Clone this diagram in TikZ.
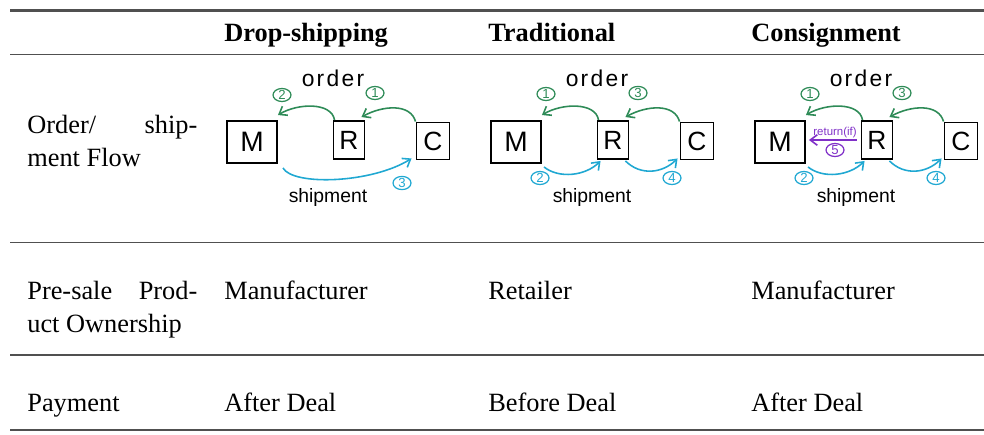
\documentclass[tikz,border=0pt]{standalone}
\usepackage{fontspec}
\setmainfont{Liberation Serif}
\newfontfamily\handfont{Liberation Sans}
\usepackage{xcolor}
\usepackage{tikz}
\usetikzlibrary{arrows.meta,shapes.geometric}
\definecolor{ordergreen}{RGB}{46,139,87}
\definecolor{shipblue}{RGB}{32,168,210}
\definecolor{retpurple}{RGB}{128,48,200}
\definecolor{rulegray}{RGB}{80,80,80}

\begin{document}
\begin{tikzpicture}[x=0.02cm,y=-0.02cm,
    cell/.style={anchor=base west,inner sep=0pt,font=\fontsize{15}{18.5}\selectfont},
    head/.style={cell,font=\fontsize{15}{18.5}\selectfont\bfseries},
    hbox/.style={draw,line width=1.1pt,inner sep=0pt,font=\handfont\fontsize{15}{15}\selectfont},
    hand/.style={inner sep=0pt,font=\handfont\fontsize{11}{11}\selectfont},
    num/.style={ellipse,draw,line width=0.7pt,inner sep=0pt,minimum width=0.36cm,minimum height=0.26cm,font=\handfont\fontsize{7.5}{7.5}\selectfont},
    flow/.style={line width=0.9pt,-{Straight Barb[length=4pt,width=6pt]}},
    ord/.style={flow,ordergreen},
    ship/.style={flow,shipblue}]
  \useasboundingbox (0,0) rectangle (984,435);
  % rules
  \draw[rulegray,line width=1.7pt] (10,10.5) -- (984,10.5);
  \draw[rulegray,line width=1.1pt] (10,54.5) -- (984,54.5);
  \draw[rulegray,line width=1.1pt] (10,242.5) -- (984,242.5);
  \draw[rulegray,line width=1.1pt] (10,355) -- (984,355);
  \draw[rulegray,line width=1.7pt] (10,430) -- (984,430);
  % header and text cells
  \node[head] (hdrop) at (224,42) {Drop-shipping};
  \node[head] (htrad) at (488,42) {Traditional};
  \node[head] (hcons) at (751,42) {Consignment};
  \node[cell] (lflow) at (27,134) {\parbox[t]{3.4cm}{Order/\hfill ship-\\ment Flow}};
  \node[cell] (lown) at (27,300) {\parbox[t]{3.4cm}{Pre-sale\hfill Prod-\\uct Ownership}};
  \node[cell] (lpay) at (27,412) {Payment};
  \node[cell] (odrop) at (224,300) {Manufacturer};
  \node[cell] (otrad) at (488,300) {Retailer};
  \node[cell] (ocons) at (751,300) {Manufacturer};
  \node[cell] (pdrop) at (224,412) {After Deal};
  \node[cell] (ptrad) at (488,412) {Before Deal};
  \node[cell] (pcons) at (751,412) {After Deal};
  % sketches: M, R, C boxes
  \foreach \p/\dx in {d/0,t/264,c/528}{
    \node[hbox,minimum width=1cm,minimum height=0.84cm,font=\handfont\fontsize{16}{16}\selectfont] (\p-M) at (252+\dx,142) {M};
    \node[hbox,minimum width=0.62cm,minimum height=0.76cm] (\p-R) at (349+\dx,140) {R};
    \node[hbox,minimum width=0.66cm,minimum height=0.74cm] (\p-C) at (433+\dx,141) {C};
    \node[hand,font=\handfont\fontsize{13}{13}\selectfont\addfontfeature{LetterSpace=10}] (\p-order) at (333+\dx,78) {order};
    \node[hand] (\p-ship) at (328+\dx,198) {shipment};
  }
  % drop-shipping
  \draw[ord] (d-C.north west) .. controls +(-5,-18) and +(22,-12) .. ([shift={(-4,-3)}]d-R.north east);
  \draw[ord] ([shift={(2,0)}]d-R.north west) .. controls +(-3,-18) and +(20,-12) .. ([shift={(0,-5)}]d-M.north east);
  \draw[ship] ([shift={(5,4)}]d-M.south east) .. controls +(10,18) and +(-40,25) .. ([shift={(-4,-2)}]d-C.south west);
  \node[num,ordergreen] (d-n1) at (375,93) {1};
  \node[num,ordergreen] (d-n2) at (282,95) {2};
  \node[num,shipblue] (d-n3) at (402,183) {3};
  % traditional and consignment
  \foreach \p/\dx in {t/0,c/264}{
    \draw[ord] ([shift={(2,0)}]\p-R.north west) .. controls +(-3,-18) and +(20,-12) .. ([shift={(0,-5)}]\p-M.north east);
    \draw[ord] (\p-C.north west) .. controls +(-5,-18) and +(22,-12) .. ([shift={(-4,-3)}]\p-R.north east);
    \draw[ship] ([shift={(2,3)}]\p-M.south east) .. controls +(15,12) and +(-15,15) .. ([shift={(4,1)}]\p-R.south west);
    \draw[ship] ([shift={(-4,1)}]\p-R.south east) .. controls +(15,15) and +(-15,15) .. ([shift={(-2,-2)}]\p-C.south west);
    \node[num,ordergreen] (\p-n1) at (546+\dx,94) {1};
    \node[num,shipblue] (\p-n2) at (540+\dx,178) {2};
    \node[num,ordergreen] (\p-n3) at (638+\dx,93) {3};
    \node[num,shipblue] (\p-n4) at (672+\dx,178) {4};
  }
  % return arrow
  \draw[flow,retpurple] ([shift={(-4,0)}]c-R.west) -- ([shift={(3,0)}]c-R.west -| c-M.east);
  \node[hand,retpurple,font=\handfont\fontsize{6.5}{6.5}\selectfont] (c-ret) at (835,133) {return(if)};
  \node[num,retpurple] (c-n5) at (835,150) {5};
\end{tikzpicture}
\end{document}
